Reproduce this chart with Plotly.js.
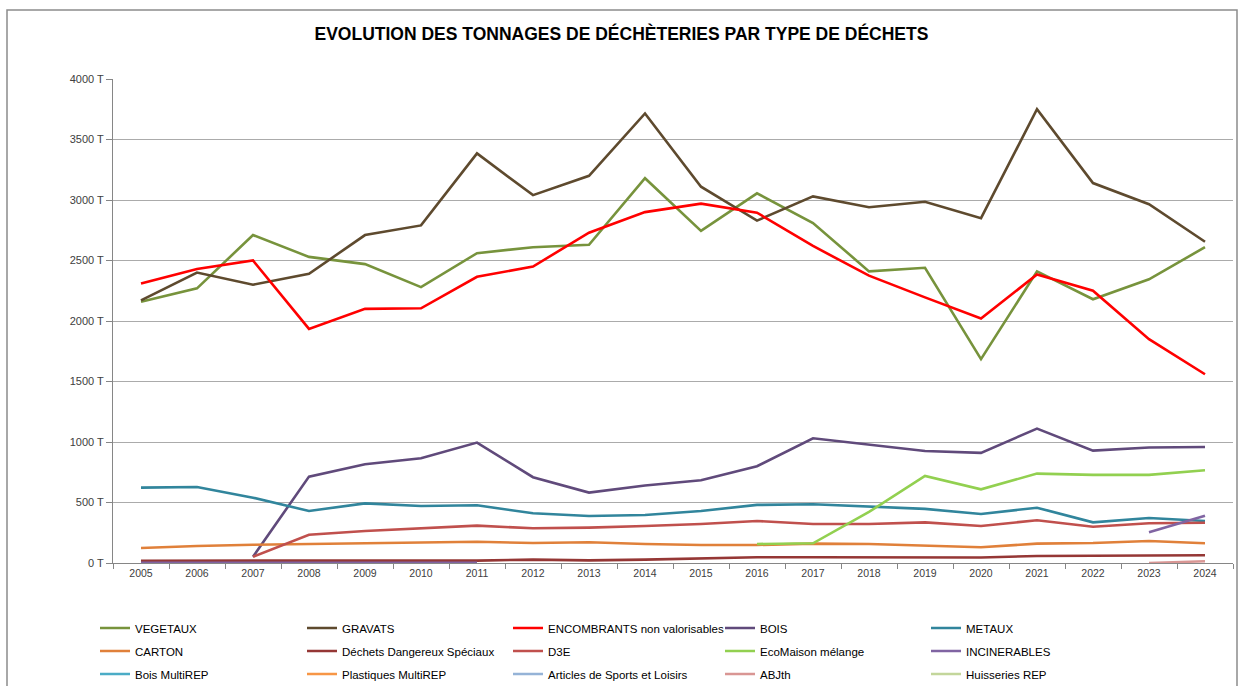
<!DOCTYPE html>
<html>
<head>
<meta charset="utf-8">
<script src="https://cdn.plot.ly/plotly-3.0.1.min.js"></script>
<style>html,body{margin:0;padding:0;background:#fff;}#chart{width:1238px;height:686px;}</style>
</head>
<body>
<div id="chart"></div>
<script>
var years = ["2005","2006","2007","2008","2009","2010","2011","2012","2013","2014","2015","2016","2017","2018","2019","2020","2021","2022","2023","2024"];

var vegetaux     = [2160,2270,2710,2530,2470,2280,2560,2610,2630,3180,2745,3055,2810,2410,2440,1685,2410,2180,2345,2610];
var gravats      = [2170,2400,2300,2390,2710,2790,3385,3040,3200,3715,3110,2830,3030,2940,2985,2850,3750,3140,2965,2655];
var encombrants  = [2310,2430,2500,1935,2100,2105,2365,2450,2730,2900,2970,2895,2620,2375,2195,2020,2385,2250,1850,1560];
var bois         = [null,null,52,714,816,866,995,709,582,640,684,800,1031,978,926,910,1111,929,954,959];
var metaux       = [623,628,540,430,493,471,477,411,389,397,430,480,485,463,447,405,457,336,372,347];
var carton       = [124,141,151,157,160,171,176,165,171,157,149,149,160,157,143,130,160,165,182,163];
var dds          = [19,19,18,19,20,20,20,28,22,28,39,47,47,47,52,46,58,58,58,64];
var d3e          = [null,null,52,234,265,284,309,287,292,306,322,347,322,322,336,306,353,300,328,333];
var ecomaison    = [null,null,null,null,null,null,null,null,null,null,null,157,163,422,719,609,739,728,728,767];
var incinerables = [2,2,2,2,2,2,2,null,null,null,null,null,null,null,null,null,null,null,255,390];
var boisMultiRep = [null,null,null,null,null,null,null,null,null,null,null,null,null,null,null,null,null,null,null,null];
var plastiquesMultiRep = [null,null,null,null,null,null,null,null,null,null,null,null,null,null,null,null,null,null,null,null];
var articlesSports = [null,null,null,null,null,null,null,null,null,null,null,null,null,null,null,null,null,null,null,null];
var abjth        = [null,null,null,null,null,null,null,null,null,null,null,null,null,null,null,null,null,null,0,15];
var huisseries   = [null,null,null,null,null,null,null,null,null,null,null,null,null,null,null,null,null,null,null,null];

var seriesNames = ["VEGETAUX","GRAVATS","ENCOMBRANTS non valorisables","BOIS","METAUX","CARTON","Déchets Dangereux Spéciaux","D3E","EcoMaison mélange","INCINERABLES","Bois MultiREP","Plastiques MultiREP","Articles de Sports et Loisirs","ABJth","Huisseries REP"];
var seriesValues = [vegetaux,gravats,encombrants,bois,metaux,carton,dds,d3e,ecomaison,incinerables,boisMultiRep,plastiquesMultiRep,articlesSports,abjth,huisseries];
var seriesColors = ["#77933C","#5E4A2E","#FF0000","#604A7B","#31859C","#E0803A","#953735","#C0504D","#92D050","#8064A2","#4BACC6","#F79646","#95B3D7","#D99694","#C3D69B"];

// legend grid (5 columns x 3 rows, as in the original workbook chart)
var W = 1238, H = 686, ML = 113, MR = 5, MT = 79, MB = 123;
var PW = W - ML - MR, PH = H - MT - MB;
var legendColPx = [95, 302, 508, 720, 926];
var legendRowPx = [628, 651, 674];

var traces = seriesNames.map(function(n,i){
  var key = i === 0 ? "legend" : "legend" + (i + 1);
  return {
    type:"scatter", mode:"lines", name:n, x:years, y:seriesValues[i],
    line:{color:seriesColors[i], width:2.6},
    connectgaps:false, legend:key, showlegend:true
  };
});

var layout = {
  width:W, height:H,
  paper_bgcolor:"#fff", plot_bgcolor:"#fff",
  margin:{l:ML, r:MR, t:MT, b:MB, autoexpand:false},
  font:{family:"Liberation Sans, Arial, sans-serif", color:"#404040"},
  title:{text:"<b>EVOLUTION DES TONNAGES DE DÉCHÈTERIES PAR TYPE DE DÉCHETS</b>",
         font:{family:"Liberation Sans, Arial, sans-serif", size:17.5, color:"#000"},
         x:0.502, xanchor:"center", xref:"container", y:0.95, yanchor:"middle", yref:"container"},
  xaxis:{type:"category", range:[-0.5, years.length - 0.5], tickson:"boundaries", ticks:"outside", ticklen:5, tickcolor:"#868686",
         showline:true, linecolor:"#868686", linewidth:1, showgrid:false, automargin:false,
         tickfont:{size:10.5, color:"#404040"}, zeroline:false, fixedrange:true},
  yaxis:{range:[0,4000], dtick:500, ticksuffix:" T", ticks:"outside", ticklen:6, tickcolor:"#868686",
         showline:true, linecolor:"#868686", linewidth:1, showgrid:true, gridcolor:"#ababab", gridwidth:1, automargin:false,
         tickfont:{size:11, color:"#404040"}, zeroline:false, tickformat:"d", fixedrange:true},
  showlegend:true,
  shapes:[{type:"rect", xref:"paper", yref:"paper",
           x0:(7-ML)/PW, x1:(1237-ML)/PW, y0:(H+20-(H-MB))/-PH, y1:((H-MB)-10)/PH,
           line:{color:"#8c8c8c", width:1.5}, fillcolor:"rgba(0,0,0,0)", layer:"below"}]
};

seriesNames.forEach(function(n,i){
  var key = i === 0 ? "legend" : "legend" + (i + 1);
  var col = i % 5, row = Math.floor(i / 5);
  layout[key] = {
    x:(legendColPx[col] - ML)/PW, xanchor:"left",
    y:((H - MB) - legendRowPx[row])/PH, yanchor:"middle",
    orientation:"h", bgcolor:"rgba(0,0,0,0)", borderwidth:0,
    font:{size:11.5, color:"#000"}, itemwidth:30
  };
});

Plotly.newPlot("chart", traces, layout, {displayModeBar:false, staticPlot:true});
</script>
</body>
</html>
